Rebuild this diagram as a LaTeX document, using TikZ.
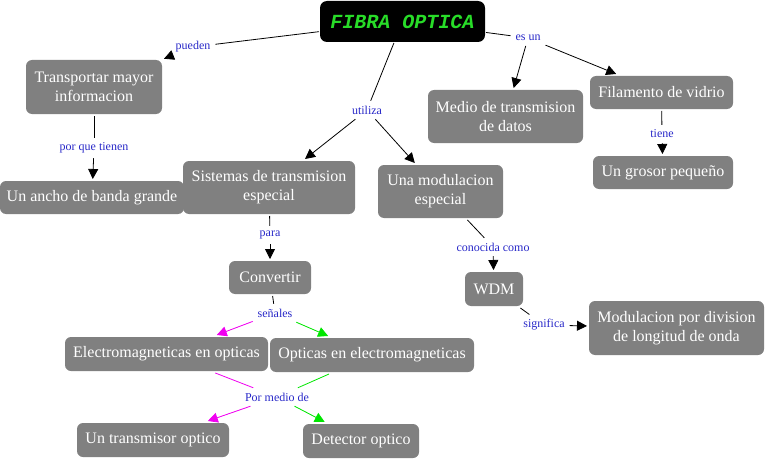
\documentclass[tikz,border=0pt]{standalone}
\usepackage{fontspec}
\setmainfont{Liberation Serif}
\newfontfamily\titlefont{Liberation Mono}
\usetikzlibrary{arrows.meta}
\definecolor{boxgray}{RGB}{128,128,128}
\definecolor{lblblue}{RGB}{40,40,200}
\definecolor{titlegreen}{RGB}{40,220,40}
\definecolor{mag}{RGB}{240,0,240}
\definecolor{grn}{RGB}{0,230,0}
\tikzset{
  concept/.style={draw=none, fill=boxgray, rounded corners=6pt, text=white,
    font=\fontsize{16}{19}\selectfont, align=center, inner sep=0pt, outer sep=2pt},
  titlebox/.style={fill=black, rounded corners=7pt, text=titlegreen,
    font=\titlefont\bfseries\itshape\fontsize{20}{22}\selectfont, inner sep=0pt, outer sep=1pt},
  lbl/.style={text=lblblue, font=\fontsize{12}{14}\selectfont, inner sep=1pt, outer sep=4pt},
  link/.style={line width=0.8pt},
  arr/.style={line width=0.8pt, -{Triangle[length=10pt,width=10pt]}},
}
\begin{document}
\begin{tikzpicture}[x=1pt,y=-1pt]
\useasboundingbox (0,0) rectangle (766,460);
% concepts
\node[titlebox, minimum width=165pt, minimum height=41pt] (fibra) at (402.5,21.5) {FIBRA OPTICA};
\node[concept, minimum width=136pt, minimum height=54pt] (transp) at (94,87) {Transportar mayor\\informacion};
\node[concept, minimum width=184pt, minimum height=33pt] (ancho) at (92,197.5) {Un ancho de banda grande};
\node[concept, minimum width=172pt, minimum height=53pt] (sist) at (269,187.5) {Sistemas de transmision\\especial};
\node[concept, minimum width=125pt, minimum height=53pt] (modesp) at (440.5,191.5) {Una modulacion\\especial};
\node[concept, minimum width=155pt, minimum height=53pt] (medio) at (505.5,116.5) {Medio de transmision\\de datos};
\node[concept, minimum width=143pt, minimum height=33pt] (filam) at (661.5,92.5) {Filamento de vidrio};
\node[concept, minimum width=140pt, minimum height=33pt] (grosor) at (663,172.5) {Un grosor pequeño};
\node[concept, minimum width=82pt, minimum height=33pt] (conv) at (270,277.5) {Convertir};
\node[concept, minimum width=203pt, minimum height=34pt] (electro) at (166.5,354) {Electromagneticas en opticas};
\node[concept, minimum width=204pt, minimum height=34pt] (optic) at (372,355) {Opticas en electromagneticas};
\node[concept, minimum width=152pt, minimum height=34pt] (transm) at (153,440) {Un transmisor optico};
\node[concept, minimum width=116pt, minimum height=34pt] (detec) at (361,441) {Detector optico};
\node[concept, minimum width=58pt, minimum height=34pt] (wdm) at (494,289) {WDM};
\node[concept, minimum width=175pt, minimum height=54pt] (moddiv) at (676.5,328) {Modulacion por division\\de longitud de onda};
% linking phrases
\node[lbl] (pueden) at (193,47) {pueden};
\node[lbl] (porque) at (94,148) {por que tienen};
\node[lbl] (utiliza) at (367,110) {utiliza};
\node[lbl] (esun) at (528,38) {es un};
\node[lbl] (tiene) at (662,134) {tiene};
\node[lbl] (para) at (270,235) {para};
\node[lbl] (senales) at (275,313) {señales};
\node[lbl] (pormedio) at (277,397) {Por medio de};
\node[lbl] (conocida) at (493,247) {conocida como};
\node[lbl] (significa) at (544,325) {significa};
% connectors
\draw[link] (fibra) -- (pueden);
\draw[arr] (pueden) -- (transp);
\draw[link] (fibra) -- (utiliza);
\draw[arr] (utiliza) -- (sist);
\draw[arr] (utiliza) -- (modesp);
\draw[link] (fibra) -- (esun);
\draw[arr] (esun) -- (medio);
\draw[arr] (esun) -- (filam);
\draw[link] (transp) -- (porque);
\draw[arr] (porque) -- (ancho);
\draw[link] (filam) -- (tiene);
\draw[arr] (tiene) -- (grosor);
\draw[link] (sist) -- (para);
\draw[arr] (para) -- (conv);
\draw[link] (conv) -- (senales);
\draw[arr, draw=mag, fill=mag] (senales) -- (electro);
\draw[arr, draw=grn, fill=grn] (senales) -- (optic);
\draw[link, draw=mag] (electro) -- (pormedio);
\draw[link, draw=grn] (optic) -- (pormedio);
\draw[arr, draw=mag, fill=mag] (pormedio) -- (transm);
\draw[arr, draw=grn, fill=grn] (pormedio) -- (detec);
\draw[link] (modesp) -- (conocida);
\draw[arr] (conocida) -- (wdm);
\draw[link] (wdm) -- (significa);
\draw[arr] (significa) -- (moddiv);
\end{tikzpicture}
\end{document}
